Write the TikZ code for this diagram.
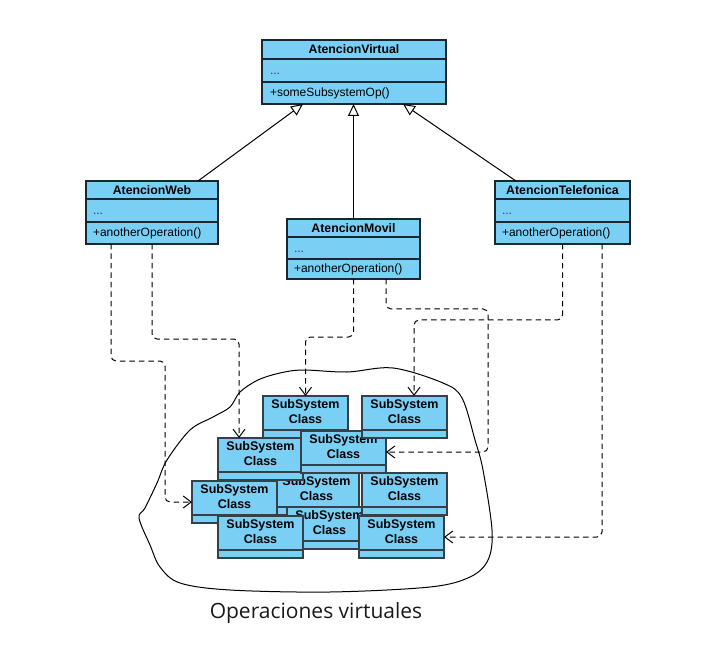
\documentclass[tikz,border=0pt]{standalone}
\usepackage{fontspec}
\setmainfont{Liberation Sans}
\newfontfamily\captionfont{Open Sans}
\usetikzlibrary{arrows.meta}
\definecolor{classfill}{HTML}{7ACFF5}
\definecolor{classedge}{HTML}{1A2630}
\definecolor{subedge}{HTML}{34404A}
\definecolor{dotscolor}{HTML}{45287F}

\begin{document}
\begin{tikzpicture}[x=1pt,y=-1pt,
    every node/.style={inner sep=0pt, outer sep=0pt},
    classpart/.style={draw=classedge, line width=1.2pt, fill=classfill, anchor=north},
    classtitle/.style={font=\bfseries\fontsize{12.3}{14}\selectfont},
    classop/.style={font=\fontsize{12}{14}\selectfont, anchor=west},
    classdots/.style={font=\fontsize{12}{14}\selectfont, text=dotscolor, anchor=base west},
    subbox/.style={draw=subedge, line width=1.5pt, fill=classfill, minimum width=85pt, minimum height=42pt, anchor=north west},
    subline/.style={draw=subedge, line width=1.5pt},
    subtext/.style={font=\bfseries\fontsize{12.5}{15}\selectfont, align=center},
    inherit/.style={draw=black, line width=1pt, -{Triangle[open, length=12pt, width=11pt, fill=white]}},
    depend/.style={draw=black, line width=1pt, dash pattern=on 5.5pt off 4pt, rounded corners=5pt, -{Straight Barb[length=8pt, width=12pt]}}]
        \useasboundingbox (0,0) rectangle (702,655);
        \node[classpart, classtitle, minimum width=184pt, minimum height=19pt, anchor=north west] (virtual) at (262,40) {AtencionVirtual};
        \node[classpart, minimum width=184pt, minimum height=23pt] (virtual-attr) at (virtual.south) {};
        \node[classpart, minimum width=184pt, minimum height=22pt] (virtual-ops) at (virtual-attr.south) {};
        \node[classdots] (virtual-dots) at ([xshift=8pt,yshift=7pt]virtual-attr.south west) {...};
        \node[classop] (virtual-op) at ([xshift=8pt]virtual-ops.west) {+someSubsystemOp()};
        \node[classpart, classtitle, minimum width=132pt, minimum height=18pt, anchor=north west] (web) at (86,181) {AtencionWeb};
        \node[classpart, minimum width=132pt, minimum height=23pt] (web-attr) at (web.south) {};
        \node[classpart, minimum width=132pt, minimum height=22pt] (web-ops) at (web-attr.south) {};
        \node[classdots] (web-dots) at ([xshift=7pt,yshift=7pt]web-attr.south west) {...};
        \node[classop] (web-op) at ([xshift=7pt]web-ops.west) {+anotherOperation()};
        \node[classpart, classtitle, minimum width=133pt, minimum height=18pt, anchor=north west] (movil) at (287,219) {AtencionMovil};
        \node[classpart, minimum width=133pt, minimum height=22pt] (movil-attr) at (movil.south) {};
        \node[classpart, minimum width=133pt, minimum height=20pt] (movil-ops) at (movil-attr.south) {};
        \node[classdots] (movil-dots) at ([xshift=7pt,yshift=6pt]movil-attr.south west) {...};
        \node[classop] (movil-op) at ([xshift=7pt]movil-ops.west) {+anotherOperation()};
        \node[classpart, classtitle, minimum width=135pt, minimum height=18pt, anchor=north west] (tel) at (495,181) {AtencionTelefonica};
        \node[classpart, minimum width=135pt, minimum height=23pt] (tel-attr) at (tel.south) {};
        \node[classpart, minimum width=135pt, minimum height=22pt] (tel-ops) at (tel-attr.south) {};
        \node[classdots] (tel-dots) at ([xshift=7pt,yshift=7pt]tel-attr.south west) {...};
        \node[classop] (tel-op) at ([xshift=7pt]tel-ops.west) {+anotherOperation()};
        \draw[inherit] ([xshift=-20pt]web.north east) -- ([xshift=41pt]virtual-ops.south west);
        \draw[inherit] (movil.north) -- (virtual-ops.south -| movil.north);
        \draw[inherit] ([xshift=21pt]tel.north west) -- ([xshift=-43pt]virtual-ops.south east);
        \draw[line width=1pt] plot[smooth cycle, tension=0.55] coordinates {(240,392) (258,380) (280,373) (303,370) (347,372) (393,368) (443,383) (462,398) (475,440) (483,470) (492,530) (488,560) (470,577) (430,587) (330,592) (230,590) (180,583) (160,567) (150,545) (139,518) (145,508) (157,483) (167,460) (190,430) (213,417) (230,407)};
        \node[subbox] (subA) at (263,396) {};
        \draw[subline] ([yshift=8pt]subA.south west) -- ([yshift=8pt]subA.south east);
        \node[subtext] (subA-name) at ([yshift=-16pt]subA.north) {SubSystem\\Class};
        \node[subbox] (subE) at (274,473) {};
        \draw[subline] ([yshift=8pt]subE.south west) -- ([yshift=8pt]subE.south east);
        \node[subtext] (subE-name) at ([yshift=-16pt]subE.north) {SubSystem\\Class};
        \node[subbox] (subD) at (218,438) {};
        \draw[subline] ([yshift=8pt]subD.south west) -- ([yshift=8pt]subD.south east);
        \node[subtext] (subD-name) at ([yshift=-16pt]subD.north) {SubSystem\\Class};
        \node[subbox] (subC) at (301,431) {};
        \draw[subline] ([yshift=8pt]subC.south west) -- ([yshift=8pt]subC.south east);
        \node[subtext] (subC-name) at ([yshift=-16pt]subC.north) {SubSystem\\Class};
        \node[subbox] (subB) at (362,396) {};
        \draw[subline] ([yshift=8pt]subB.south west) -- ([yshift=8pt]subB.south east);
        \node[subtext] (subB-name) at ([yshift=-16pt]subB.north) {SubSystem\\Class};
        \node[subbox] (subH) at (287,507) {};
        \draw[subline] ([yshift=8pt]subH.south west) -- ([yshift=8pt]subH.south east);
        \node[subtext] (subH-name) at ([yshift=-16pt]subH.north) {SubSystem\\Class};
        \node[subbox] (subF) at (362,473) {};
        \draw[subline] ([yshift=8pt]subF.south west) -- ([yshift=8pt]subF.south east);
        \node[subtext] (subF-name) at ([yshift=-16pt]subF.north) {SubSystem\\Class};
        \node[subbox] (subG) at (192,481) {};
        \draw[subline] ([yshift=8pt]subG.south west) -- ([yshift=8pt]subG.south east);
        \node[subtext] (subG-name) at ([yshift=-16pt]subG.north) {SubSystem\\Class};
        \node[subbox] (subI) at (218,516) {};
        \draw[subline] ([yshift=8pt]subI.south west) -- ([yshift=8pt]subI.south east);
        \node[subtext] (subI-name) at ([yshift=-16pt]subI.north) {SubSystem\\Class};
        \node[subbox] (subJ) at (359,516) {};
        \draw[subline] ([yshift=8pt]subJ.south west) -- ([yshift=8pt]subJ.south east);
        \node[subtext] (subJ-name) at ([yshift=-16pt]subJ.north) {SubSystem\\Class};
        \draw[depend] ([xshift=25pt]web-ops.south west) |- (165,361) |- (subG.west);
        \draw[depend] (web-ops.south) -- ++(0,95) -| ([xshift=21pt]subD.north west);
        \draw[depend] (movil-ops.south) -- ++(0,58) -| (subA.north);
        \draw[depend] ([xshift=-34pt]movil-ops.south east) |- (488,309) |- (subC.east);
        \draw[depend] (tel-ops.south) -- ++(0,76) -| ([xshift=52pt]subB.north west);
        \draw[depend] ([xshift=-28pt]tel-ops.south east) |- (subJ.east);
        \node[font=\captionfont\fontsize{21}{25}\selectfont, text=black!90, anchor=base] (caption) at (316,618) {Operaciones virtuales};
    \end{tikzpicture}
\end{document}
